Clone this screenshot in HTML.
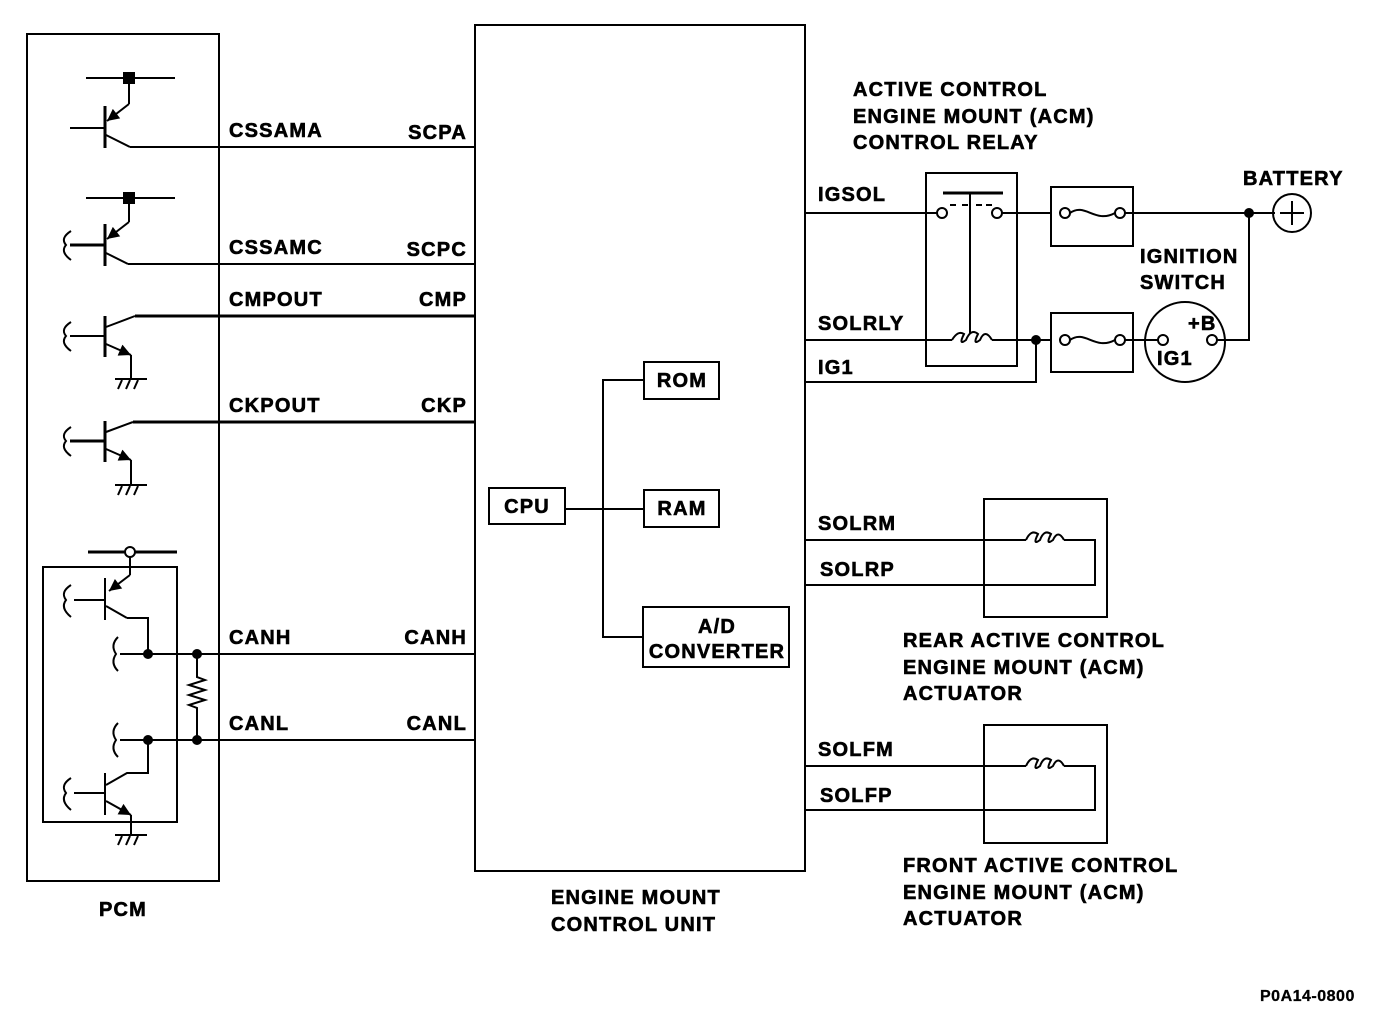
<!DOCTYPE html>
<html><head><meta charset="utf-8"><style>
html,body{margin:0;padding:0;background:#fff}
svg{display:block}
text{font-family:"Liberation Sans",Arial,sans-serif;font-weight:bold;font-size:20px;letter-spacing:1.2px;fill:#000;stroke:#000;stroke-width:0.6px}
</style></head><body>
<svg width="1392" height="1016" viewBox="0 0 1392 1016" xmlns="http://www.w3.org/2000/svg">
<defs>
<marker id="a2" viewBox="0 0 10 10" refX="10" refY="5" markerWidth="14" markerHeight="12" orient="auto" markerUnits="userSpaceOnUse"><path d="M0,0 L10,5 L0,10 z" fill="#000"/></marker>
</defs>
<g fill="none" stroke="#000" stroke-width="2">
<rect x="27" y="34" width="192" height="847"/>
<rect x="475" y="25" width="330" height="846"/>
<line x1="86" y1="78" x2="175" y2="78"/>
<line x1="129" y1="78" x2="129" y2="104"/>
<line x1="129" y1="104" x2="107" y2="121" marker-end="url(#a2)"/>
<line x1="105" y1="106" x2="105" y2="148" stroke-width="3"/>
<line x1="70" y1="128" x2="105" y2="128"/>
<line x1="106" y1="135" x2="130" y2="147"/>
<line x1="130" y1="147" x2="475" y2="147"/>
<line x1="86" y1="198" x2="175" y2="198"/>
<line x1="129" y1="198" x2="129" y2="222"/>
<line x1="129" y1="222" x2="107" y2="239" marker-end="url(#a2)"/>
<line x1="105" y1="224" x2="105" y2="266" stroke-width="3"/>
<line x1="70" y1="245" x2="105" y2="245" stroke-width="3"/>
<path d="M71,231 Q60,238 66,245 Q60,252 71,260"/>
<line x1="106" y1="253" x2="128" y2="264"/>
<line x1="128" y1="264" x2="475" y2="264"/>
<line x1="105" y1="316" x2="105" y2="357" stroke-width="3"/>
<line x1="70" y1="336" x2="105" y2="336"/>
<path d="M71,322 Q60,329 66,336 Q60,343 71,351"/>
<line x1="106" y1="327" x2="135" y2="316"/>
<line x1="135" y1="316" x2="475" y2="316" stroke-width="3"/>
<line x1="106" y1="344" x2="131" y2="355" marker-end="url(#a2)"/>
<line x1="131" y1="355" x2="131" y2="379"/>
<line x1="115" y1="379" x2="147" y2="379"/>
<path d="M122,380 l-4,9 M130,380 l-4,9 M138,380 l-4,9"/>
<line x1="105" y1="421" x2="105" y2="462" stroke-width="3"/>
<line x1="70" y1="441" x2="105" y2="441" stroke-width="3"/>
<path d="M71,427 Q60,434 66,441 Q60,448 71,456"/>
<line x1="106" y1="432" x2="133" y2="422"/>
<line x1="133" y1="422" x2="475" y2="422" stroke-width="3"/>
<line x1="106" y1="449" x2="131" y2="460" marker-end="url(#a2)"/>
<line x1="131" y1="460" x2="131" y2="485"/>
<line x1="115" y1="485" x2="147" y2="485"/>
<path d="M122,486 l-4,9 M130,486 l-4,9 M138,486 l-4,9"/>
<rect x="43" y="567" width="134" height="255"/>
<line x1="88" y1="552" x2="177" y2="552" stroke-width="3"/>
<line x1="130" y1="557" x2="130" y2="575"/>
<line x1="130" y1="575" x2="109" y2="591" marker-end="url(#a2)"/>
<line x1="105" y1="578" x2="105" y2="620"/>
<line x1="74" y1="600" x2="105" y2="600"/>
<path d="M71,585 Q60,592 66,600 Q60,608 71,617"/>
<line x1="106" y1="606" x2="127" y2="618"/>
<polyline points="127,618 148,618 148,654"/>
<line x1="120" y1="654" x2="475" y2="654"/>
<path d="M118,637 Q110,645 116,654 Q110,663 118,671"/>
<line x1="120" y1="740" x2="475" y2="740"/>
<path d="M118,723 Q110,731 116,740 Q110,749 118,757"/>
<polyline points="197,654 197,677 205,680 189,685 205,690 189,695 205,700 189,705 197,708 197,740"/>
<polyline points="148,740 148,773 127,773 106,785"/>
<line x1="105" y1="773" x2="105" y2="815"/>
<line x1="74" y1="793" x2="105" y2="793"/>
<path d="M71,778 Q60,785 66,793 Q60,801 71,810"/>
<line x1="106" y1="801" x2="131" y2="815" marker-end="url(#a2)"/>
<line x1="131" y1="815" x2="131" y2="835"/>
<line x1="115" y1="835" x2="147" y2="835"/>
<path d="M122,836 l-4,9 M130,836 l-4,9 M138,836 l-4,9"/>
<rect x="489" y="488" width="76" height="36"/>
<rect x="644" y="362" width="75" height="37"/>
<rect x="644" y="490" width="75" height="37"/>
<rect x="643" y="607" width="146" height="60"/>
<line x1="565" y1="509" x2="644" y2="509"/>
<polyline points="644,380 603,380 603,637 643,637"/>
<rect x="926" y="173" width="91" height="193"/>
<line x1="943" y1="193" x2="1003" y2="193" stroke-width="3"/>
<line x1="970" y1="193" x2="970" y2="334"/>
<path d="M950,205 h6 M962,205 h6 M976,205 h6 M986,205 h6"/>
<line x1="805" y1="213" x2="937" y2="213"/>
<circle cx="942" cy="213" r="5"/>
<circle cx="997" cy="213" r="5"/>
<line x1="1002" y1="213" x2="1051" y2="213"/>
<rect x="1051" y="187" width="82" height="59"/>
<circle cx="1065" cy="213" r="5"/>
<circle cx="1120" cy="213" r="5"/>
<path d="M1070,213 C1085,202 1095,224 1115,213"/>
<line x1="1125" y1="213" x2="1275" y2="213"/>
<circle cx="1292" cy="213" r="19"/>
<path d="M1280,213 h24 M1292,201 v24"/>
<line x1="805" y1="340" x2="952" y2="340"/>
<path d="M952,340 Q958,330 964,334 Q958,346 966,340 Q971,328 978,334 Q972,346 980,340 Q985,328 992,340"/>
<line x1="992" y1="340" x2="1051" y2="340"/>
<polyline points="805,382 1036,382 1036,340"/>
<rect x="1051" y="313" width="82" height="59"/>
<circle cx="1065" cy="340" r="5"/>
<circle cx="1120" cy="340" r="5"/>
<path d="M1070,340 C1085,329 1095,351 1115,340"/>
<line x1="1125" y1="340" x2="1158" y2="340"/>
<circle cx="1185" cy="342" r="40"/>
<circle cx="1163" cy="340" r="5"/>
<circle cx="1212" cy="340" r="5"/>
<polyline points="1217,340 1249,340 1249,213"/>
<rect x="984" y="499" width="123" height="118"/>
<line x1="805" y1="540" x2="1026" y2="540"/>
<path d="M1026,540 Q1031,529 1038,534 Q1032,546 1040,540 Q1044,529 1051,534 Q1045,546 1053,540 Q1058,529 1064,540"/>
<polyline points="1064,540 1095,540 1095,585 805,585"/>
<rect x="984" y="725" width="123" height="118"/>
<line x1="805" y1="766" x2="1026" y2="766"/>
<path d="M1026,766 Q1031,755 1038,760 Q1032,772 1040,766 Q1044,755 1051,760 Q1045,772 1053,766 Q1058,755 1064,766"/>
<polyline points="1064,766 1095,766 1095,810 805,810"/>
</g>
<g fill="#000">
<rect x="123" y="72" width="12" height="12"/>
<rect x="123" y="192" width="12" height="12"/>
<circle cx="148" cy="654" r="5"/><circle cx="197" cy="654" r="5"/>
<circle cx="148" cy="740" r="5"/><circle cx="197" cy="740" r="5"/>
<circle cx="1036" cy="340" r="5"/><circle cx="1249" cy="213" r="5"/>
</g>
<circle cx="130" cy="552" r="5" fill="#fff" stroke="#000" stroke-width="2"/>
<text x="229" y="137">CSSAMA</text>
<text x="467" y="139" text-anchor="end">SCPA</text>
<text x="229" y="254">CSSAMC</text>
<text x="467" y="256" text-anchor="end">SCPC</text>
<text x="229" y="306">CMPOUT</text>
<text x="467" y="306" text-anchor="end">CMP</text>
<text x="229" y="412">CKPOUT</text>
<text x="467" y="412" text-anchor="end">CKP</text>
<text x="229" y="644">CANH</text>
<text x="467" y="644" text-anchor="end">CANH</text>
<text x="229" y="730">CANL</text>
<text x="467" y="730" text-anchor="end">CANL</text>
<text x="123" y="916" text-anchor="middle">PCM</text>
<text x="551" y="904">ENGINE MOUNT</text>
<text x="551" y="931">CONTROL UNIT</text>
<text x="527" y="513" text-anchor="middle">CPU</text>
<text x="682" y="387" text-anchor="middle">ROM</text>
<text x="682" y="515" text-anchor="middle">RAM</text>
<text x="717" y="633" text-anchor="middle">A/D</text>
<text x="717" y="658" text-anchor="middle">CONVERTER</text>
<text x="853" y="96">ACTIVE CONTROL</text>
<text x="853" y="123">ENGINE MOUNT (ACM)</text>
<text x="853" y="149">CONTROL RELAY</text>
<text x="818" y="201">IGSOL</text>
<text x="818" y="330">SOLRLY</text>
<text x="818" y="374">IG1</text>
<text x="1243" y="185">BATTERY</text>
<text x="1140" y="263">IGNITION</text>
<text x="1140" y="289">SWITCH</text>
<text x="1188" y="330">+B</text>
<text x="1157" y="365">IG1</text>
<text x="818" y="530">SOLRM</text>
<text x="820" y="576">SOLRP</text>
<text x="903" y="647">REAR ACTIVE CONTROL</text>
<text x="903" y="674">ENGINE MOUNT (ACM)</text>
<text x="903" y="700">ACTUATOR</text>
<text x="818" y="756">SOLFM</text>
<text x="820" y="802">SOLFP</text>
<text x="903" y="872">FRONT ACTIVE CONTROL</text>
<text x="903" y="899">ENGINE MOUNT (ACM)</text>
<text x="903" y="925">ACTUATOR</text>
<text x="1260" y="1001" style="font-size:16px;letter-spacing:0.5px;stroke-width:0.3px">P0A14-0800</text>
</svg>
</body></html>
